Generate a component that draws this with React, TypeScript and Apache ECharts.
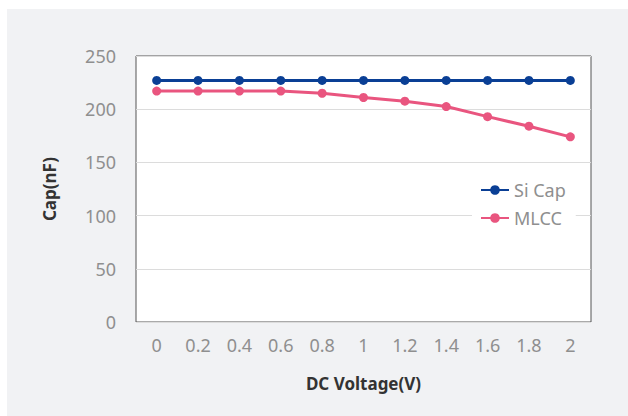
import React, { useEffect, useRef } from "react";
import * as echarts from "echarts";

const voltages = ["0", "0.2", "0.4", "0.6", "0.8", "1", "1.2", "1.4", "1.6", "1.8", "2"];
const siCap = [227, 227, 227, 227, 227, 227, 227, 227, 227, 227, 227];
const mlcc = [217, 217, 217, 217, 215, 211, 207.5, 202.5, 193, 184, 174];
const yTicks = { min: 0, max: 250, interval: 50 };

export default function App() {
  const ref = useRef<HTMLDivElement>(null);
  useEffect(() => {
    if (!ref.current) return;
    const chart = echarts.init(ref.current, null, { renderer: "svg" });
    const labelColor = "#8f8f8f";
    const font = "'Noto Sans', sans-serif";
    chart.setOption({
      animation: false,
      backgroundColor: "#ffffff",
      graphic: [
        {
          type: "rect",
          z: -10,
          silent: true,
          shape: { x: 7, y: 9, width: 621, height: 407 },
          style: { fill: "#f1f2f4" },
        },
      ],
      grid: {
        left: 136,
        top: 56,
        width: 455,
        height: 266,
        show: true,
        backgroundColor: "#ffffff",
        borderColor: "#555555",
        borderWidth: 1,
        containLabel: false,
      },
      legend: {
        orient: "vertical",
        left: 472,
        top: 177,
        backgroundColor: "#ffffff",
        padding: [4, 10, 4, 8],
        itemWidth: 28,
        itemHeight: 12,
        itemGap: 10,
        textStyle: { color: labelColor, fontSize: 18, fontFamily: font, lineHeight: 18 },
        data: ["Si Cap", "MLCC"],
      },
      xAxis: {
        type: "category",
        data: voltages,
        boundaryGap: true,
        axisLine: { show: false },
        axisTick: { show: false },
        splitLine: { show: false },
        axisLabel: { color: labelColor, fontSize: 18, fontFamily: font, margin: 14 },
        name: "DC Voltage(V)",
        nameLocation: "middle",
        nameGap: 53,
        nameTextStyle: { color: "#333333", fontSize: 17, fontWeight: "bold", fontFamily: font },
      },
      yAxis: {
        type: "value",
        min: yTicks.min,
        max: yTicks.max,
        interval: yTicks.interval,
        axisLine: { show: false },
        axisTick: { show: false },
        splitLine: { lineStyle: { color: "#dcdcdc", width: 1 } },
        axisLabel: { color: labelColor, fontSize: 18, fontFamily: font, margin: 20 },
        name: "Cap(nF)",
        nameLocation: "middle",
        nameGap: 78,
        nameTextStyle: { color: "#333333", fontSize: 17, fontWeight: "bold", fontFamily: font },
      },
      series: [
        {
          name: "Si Cap",
          type: "line",
          data: siCap,
          symbol: "circle",
          symbolSize: 9,
          lineStyle: { color: "#0a3f95", width: 3 },
          itemStyle: { color: "#0a3f95" },
        },
        {
          name: "MLCC",
          type: "line",
          data: mlcc,
          symbol: "circle",
          symbolSize: 9,
          lineStyle: { color: "#e9557f", width: 3 },
          itemStyle: { color: "#e9557f" },
        },
      ],
    });
    return () => chart.dispose();
  }, []);
  return (
    <div
      ref={ref}
      style={{ position: "fixed", left: 0, top: 0, width: 628, height: 416 }}
    />
  );
}
